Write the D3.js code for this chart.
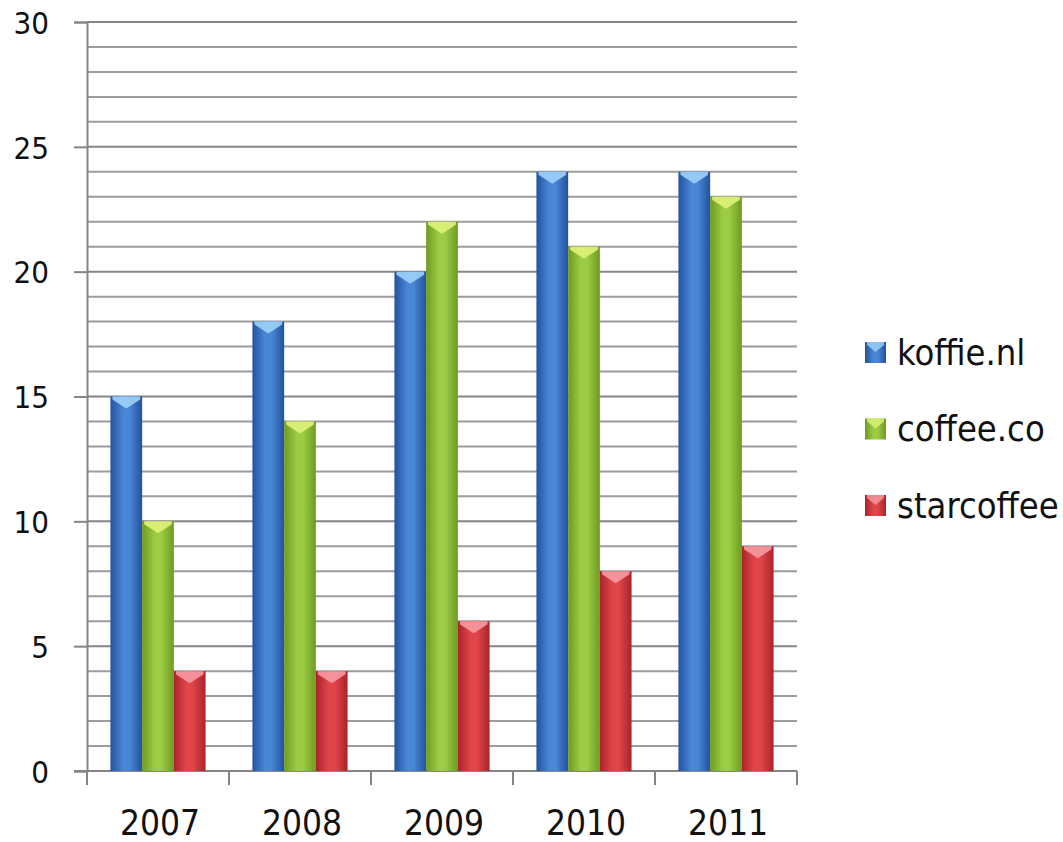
<!DOCTYPE html>
<html>
<head>
<meta charset="utf-8">
<script src="https://cdn.jsdelivr.net/npm/d3@7"></script>
<style>
  html, body { margin: 0; padding: 0; background: #fff; }
  svg text { font-family: "DejaVu Sans Condensed", "DejaVu Sans", sans-serif; font-stretch: condensed; fill: #111; }
</style>
</head>
<body>
<div id="chart"></div>
<script>
// chart values
const years = ['2007', '2008', '2009', '2010', '2011']
const seriesNames = ['koffie.nl', 'coffee.co', 'starcoffee']
const koffieValues = [15, 18, 20, 24, 24]
const coffeeValues = [10, 14, 22, 21, 23]
const starValues = [4, 4, 6, 8, 9]
const yTicks = [0, 5, 10, 15, 20, 25, 30]

const seriesValues = [koffieValues, coffeeValues, starValues]

// shading for the bars: edge, middle, cap
const palette = {
    'koffie.nl': {edge: '#22529e', mid: '#4a86d6', cap: '#9ed2fa'},
    'coffee.co': {edge: '#6e9a22', mid: '#9ccc44', cap: '#dff27a'},
    'starcoffee': {edge: '#a8242a', mid: '#e0454a', cap: '#f79aa2'}
}

const width = 1063
const height = 842
const margin = {top: 22, right: 266, bottom: 71, left: 87}

const svg = d3.select('#chart')
    .append('svg')
    .attr('width', width)
    .attr('height', height)

const defs = svg.append('defs')
seriesNames.forEach((name, i) => {
    const grad = defs.append('linearGradient')
        .attr('id', `grad${i}`)
        .attr('x1', '0%').attr('x2', '100%')
        .attr('y1', '0%').attr('y2', '0%')
    grad.append('stop').attr('offset', '0%').attr('stop-color', palette[name].edge)
    grad.append('stop').attr('offset', '40%').attr('stop-color', palette[name].mid)
    grad.append('stop').attr('offset', '60%').attr('stop-color', palette[name].mid)
    grad.append('stop').attr('offset', '100%').attr('stop-color', palette[name].edge)
})

const x0 = d3.scaleBand()
    .domain(years)
    .range([margin.left, width - margin.right])
    .paddingInner(0.33)
    .paddingOuter(0.165)

const x1 = d3.scaleBand()
    .domain(seriesNames)
    .range([0, x0.bandwidth()])

const y = d3.scaleLinear()
    .domain([0, 30])
    .range([height - margin.bottom, margin.top])

// minor gridlines every unit
svg.append('g')
    .selectAll('line')
    .data(d3.range(1, 31))
    .join('line')
    .attr('x1', margin.left)
    .attr('x2', width - margin.right)
    .attr('y1', d => y(d))
    .attr('y2', d => y(d))
    .attr('stroke', d => d % 5 === 0 ? '#858585' : '#9c9c9c')
    .attr('stroke-width', 2)

// y axis with ticks at the labelled values
const yAxis = svg.append('g')
    .attr('transform', `translate(${margin.left},0)`)
    .call(d3.axisLeft(y).tickValues(yTicks).tickSize(13).tickPadding(25))
yAxis.select('.domain').attr('stroke', '#858585').attr('stroke-width', 2)
yAxis.selectAll('.tick line').attr('stroke', '#858585').attr('stroke-width', 2)
yAxis.selectAll('.tick text')
    .attr('font-size', 31)
    .attr('dy', '0.36em')
    .attr('fill', '#111')

// x axis: ticks sit on category boundaries
const boundaries = years.map(yr => x0(yr) - x0.step() * x0.paddingInner() / 2)
boundaries.push(width - margin.right)
const xAxis = svg.append('g')
xAxis.append('line')
    .attr('x1', margin.left - 13)
    .attr('x2', width - margin.right)
    .attr('y1', y(0))
    .attr('y2', y(0))
    .attr('stroke', '#858585')
    .attr('stroke-width', 2)
xAxis.selectAll('.btick')
    .data(boundaries)
    .join('line')
    .attr('class', 'btick')
    .attr('x1', d => d).attr('x2', d => d)
    .attr('y1', y(0)).attr('y2', y(0) + 14)
    .attr('stroke', '#858585')
    .attr('stroke-width', 2)
xAxis.selectAll('.xlabel')
    .data(years)
    .join('text')
    .attr('class', 'xlabel')
    .attr('x', d => x0(d) + x0.bandwidth() / 2 + 2)
    .attr('y', 835)
    .attr('text-anchor', 'middle')
    .attr('font-size', 35)
    .text(d => d)

// bars
const groups = svg.append('g')
    .selectAll('g')
    .data(years)
    .join('g')
    .attr('transform', d => `translate(${x0(d)},0)`)

const barData = (yr, i) => seriesNames.map((name, s) => ({name, s, value: seriesValues[s][i]}))

const bars = groups.selectAll('g.bar')
    .data((yr, i) => barData(yr, i))
    .join('g')
    .attr('class', 'bar')

bars.append('rect')
    .attr('x', d => x1(d.name))
    .attr('y', d => y(d.value))
    .attr('width', x1.bandwidth())
    .attr('height', d => y(0) - y(d.value))
    .attr('fill', d => `url(#grad${d.s})`)

// light chevron cap at the top of each bar
bars.append('path')
    .attr('d', d => {
        const bx = x1(d.name)
        const bw = x1.bandwidth()
        const by = y(d.value)
        return `M${bx + 2},${by} L${bx + bw - 2},${by} L${bx + bw - 2},${by + 3} L${bx + bw / 2},${by + 12} L${bx + 2},${by + 3} Z`
    })
    .attr('fill', d => palette[d.name].cap)
    .attr('opacity', 0.9)

// legend
const legend = svg.append('g')
    .selectAll('g')
    .data(seriesNames)
    .join('g')
    .attr('transform', (d, i) => `translate(865,${352 + i * 76.5})`)

legend.append('rect')
    .attr('x', 0)
    .attr('y', -10)
    .attr('width', 21)
    .attr('height', 21)
    .attr('fill', (d, i) => `url(#grad${i})`)

legend.append('path')
    .attr('d', 'M2,-10 L19,-10 L19,-7 L10.5,0 L2,-7 Z')
    .attr('fill', d => palette[d].cap)
    .attr('opacity', 0.8)

legend.append('text')
    .attr('x', 32)
    .attr('y', 0)
    .attr('dy', '0.35em')
    .attr('font-size', 36)
    .text(d => d)
</script>
</body>
</html>
